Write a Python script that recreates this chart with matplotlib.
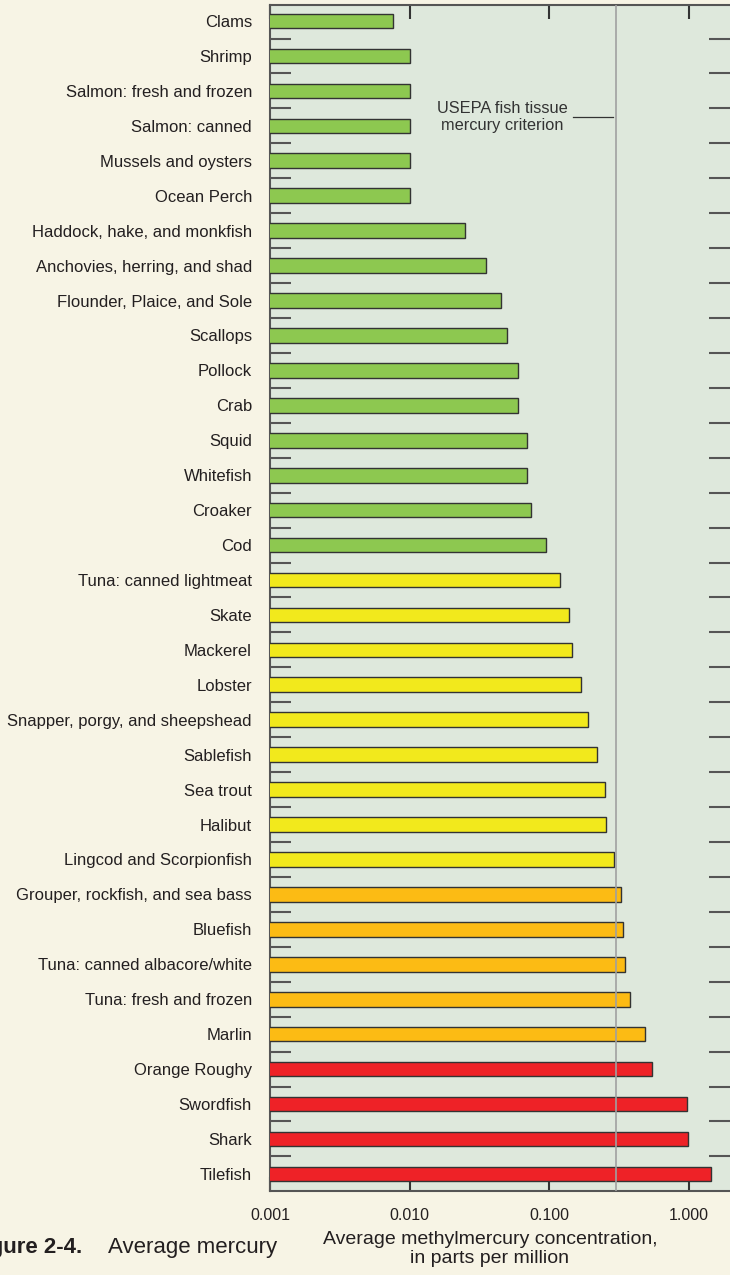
import matplotlib.pyplot as plt
import numpy as np

species = ['Clams', 'Shrimp', 'Salmon: fresh and frozen', 'Salmon: canned',
           'Mussels and oysters', 'Ocean Perch', 'Haddock, hake, and monkfish',
           'Anchovies, herring, and shad', 'Flounder, Plaice, and Sole', 'Scallops',
           'Pollock', 'Crab', 'Squid', 'Whitefish', 'Croaker', 'Cod',
           'Tuna: canned lightmeat', 'Skate', 'Mackerel', 'Lobster',
           'Snapper, porgy, and sheepshead', 'Sablefish', 'Sea trout', 'Halibut',
           'Lingcod and Scorpionfish', 'Grouper, rockfish, and sea bass', 'Bluefish',
           'Tuna: canned albacore/white', 'Tuna: fresh and frozen', 'Marlin',
           'Orange Roughy', 'Swordfish', 'Shark', 'Tilefish']
mercury = [0.0075, 0.010, 0.010, 0.010, 0.010, 0.010, 0.025, 0.035, 0.045, 0.050,
           0.060, 0.060, 0.070, 0.070, 0.074, 0.095, 0.12, 0.14, 0.146, 0.17,
           0.19, 0.22, 0.25, 0.255, 0.29, 0.33, 0.34, 0.35, 0.38, 0.49,
           0.55, 0.97, 0.99, 1.45]
group = ['g'] * 16 + ['y'] * 9 + ['o'] * 5 + ['r'] * 4
colors = {'g': '#8dc850', 'y': '#f2e91c', 'o': '#fcbb14', 'r': '#ee2227'}
criterion = 0.3
xticks = [0.001, 0.01, 0.1, 1.0]
xticklabels = ['0.001', '0.010', '0.100', '1.000']

plt.rcParams['font.family'] = ['Liberation Sans', 'DejaVu Sans']

fig = plt.figure(figsize=(7.3, 12.75), dpi=100, facecolor='#f7f4e5')
ax = fig.add_axes([270 / 730, 1 - 1191 / 1275, 460 / 730, 1186 / 1275])
ax.set_facecolor('#dee8dc')

y = np.arange(len(species))
ax.barh(y, mercury, height=0.42, left=0.0001, color=[colors[g] for g in group],
        edgecolor='#333333', linewidth=1.0, zorder=3)
ax.set_xscale('log')
ax.set_xlim(0.001, 0.001 * 10 ** (460 / 139.5))
ax.set_ylim(len(species) - 0.51, -0.46)

# USEPA criterion line and its label
ax.axvline(criterion, color='#a0a0a0', linewidth=1.2, zorder=4)
ax.text(0.046, 2.75, 'USEPA fish tissue\nmercury criterion', ha='center', va='center',
        fontsize=11.8, color='#333333', linespacing=1.15, zorder=5)
ax.plot([0.149, 0.287], [2.75, 2.75], color='#333333', linewidth=0.9, zorder=5)

ax.set_yticks(y)
ax.set_yticklabels(species, fontsize=12, color='#231f20')
ax.tick_params(axis='y', which='major', length=0, pad=13)
ax.set_yticks(y[:-1] + 0.5, minor=True)
ax.tick_params(axis='y', which='minor', direction='in', length=15, width=1.5,
               color='#555555', left=True, right=True)

ax.set_xticks(xticks)
ax.set_xticklabels(xticklabels, fontsize=11.5, color='#231f20')
ax.xaxis.set_minor_locator(plt.NullLocator())
ax.tick_params(axis='x', which='major', direction='in', length=10, width=1.5,
               color='#333333', top=True, bottom=True, pad=12)

for s in ['left', 'top', 'bottom']:
    ax.spines[s].set_color('#555555')
    ax.spines[s].set_linewidth(1.5)
ax.spines['right'].set_visible(False)

fig.text(490 / 730, 1 - 1249 / 1275, 'Average methylmercury concentration,\nin parts per million',
         ha='center', va='center', fontsize=14, color='#231f20', linespacing=1.15)

fig.text(82 / 730, 1 - 1248 / 1275, 'Figure 2-4.', ha='right', va='center',
         fontsize=16, fontweight='bold', color='#231f20')
fig.text(108 / 730, 1 - 1248 / 1275, 'Average mercury', ha='left', va='center',
         fontsize=16, color='#231f20')

fig.savefig('out.png', dpi=100, facecolor=fig.get_facecolor())
